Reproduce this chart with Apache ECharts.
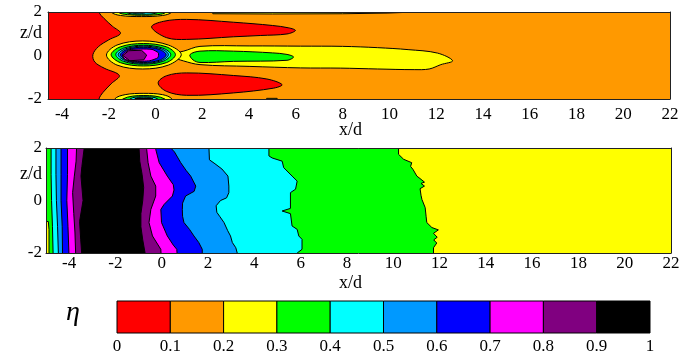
<!DOCTYPE html>
<html><head><meta charset="utf-8">
<script src="https://cdn.jsdelivr.net/npm/echarts@6/dist/echarts.min.js"></script>
<style>html,body{margin:0;padding:0;background:#fff}#c{width:694px;height:356px}</style>
</head><body><div id="c"></div>
<script>
// ---------- colour scale (eta levels) ----------
const etaTicks = [0, 0.1, 0.2, 0.3, 0.4, 0.5, 0.6, 0.7, 0.8, 0.9, 1];
const etaColors = ['#ff0000', '#ff9900', '#ffff00', '#00ff00', '#00ffff', '#0099ff', '#0000ff', '#ff00ff', '#800080', '#000000'];

// ---------- axes ticks ----------
const xTicks = [-4, -2, 0, 2, 4, 6, 8, 10, 12, 14, 16, 18, 20, 22];
const zTicks = [-2, -1, 0, 1, 2];
const topXRange = [-4.6, 22];
const botXRange = [-5, 22];
const zRange = [-2, 2];

// ---------- top plot contour regions, [x/d, z/d] ----------
const topRedLeft = [[-6,3],[-2.6,3],[-2.42,2.0],[-2.2,1.7],[-1.85,1.35],[-1.5,1.02],[-2.0,0.72],[-2.45,0.4],[-2.68,0.04],[-2.6,-0.3],[-2.2,-0.58],[-1.55,-0.92],[-1.9,-1.3],[-2.25,-1.7],[-2.42,-2.0],[-2.6,-3],[-6,-3]];
const topRedUpper = [[-0.17,1.31],[0.33,1.57],[1.33,1.66],[3.33,1.53],[5.0,1.38],[5.7,1.27],[5.98,1.15],[5.62,0.99],[4.5,0.92],[3.33,0.86],[1.33,0.74],[0.47,0.82]];
const topRedLower = [[0.11,-1.26],[0.47,-0.93],[1.33,-0.8],[3.33,-0.92],[4.76,-1.08],[5.41,-1.34],[5.05,-1.5],[3.33,-1.72],[1.33,-1.83],[0.47,-1.65]];
const topEdgeStrip = [[2.3,2.3],[2.45,1.92],[5,1.91],[8,1.92],[9.9,1.95],[10.9,1.99],[11,2.3]];
const topBotStrip = [[4.7,-2.3],[4.75,-1.97],[5.2,-1.97],[5.25,-2.3]];
const topYellowBand = [[0.7,0.08],[1.2,0.2],[1.9,0.42],[4,0.44],[6.2,0.43],[8,0.42],[9.5,0.36],[10.8,0.27],[12.06,0.11],[12.7,-0.24],[12.2,-0.42],[11.7,-0.62],[11.06,-0.65],[9.5,-0.62],[7.9,-0.58],[6.2,-0.57],[4,-0.5],[1.9,-0.42],[1.2,-0.25],[0.7,-0.05]];
const topGreenCore = [[1.47,0.04],[1.9,0.2],[3.33,0.2],[5.0,0.12],[5.62,0.05],[5.9,-0.07],[5.62,-0.22],[3.33,-0.27],[1.9,-0.32],[1.6,-0.2]];
const jetYellow = [[1.1,0.04],[0.55,0.48],[-0.55,0.67],[-1.65,0.48],[-2.1,0.02],[-1.65,-0.44],[-0.55,-0.62],[0.55,-0.44]];
const jetGreen = [[0.85,0.04],[0.46,0.4],[-0.52,0.55],[-1.5,0.4],[-1.9,0.04],[-1.5,-0.33],[-0.52,-0.48],[0.46,-0.33]];
const jetCyan = [[0.65,0.04],[0.31,0.34],[-0.52,0.47],[-1.36,0.34],[-1.7,0.04],[-1.36,-0.27],[-0.52,-0.4],[0.31,-0.27]];
const jetLightBlue = [[0.55,0.04],[0.24,0.31],[-0.52,0.43],[-1.28,0.31],[-1.6,0.04],[-1.28,-0.24],[-0.52,-0.36],[0.24,-0.24]];
const jetBlue = [[0.45,0.03],[0.16,0.28],[-0.52,0.38],[-1.21,0.28],[-1.5,0.03],[-1.21,-0.22],[-0.52,-0.32],[0.16,-0.22]];
const jetMagenta = [[-1.42,0.02],[-1.15,0.26],[-0.6,0.3],[-0.15,0.28],[0.12,0.12],[0.1,-0.1],[-0.25,-0.24],[-0.9,-0.27],[-1.3,-0.18]];
const jetPurple = [[-1.4,0.0],[-1.15,0.22],[-0.6,0.24],[-0.38,0.02],[-0.5,-0.2],[-1.1,-0.24]];
const edgeTopYellow = [[-2.0,2.4],[-1.9,2.0],[-1.5,1.84],[-0.6,1.79],[0.3,1.84],[0.7,2.0],[0.8,2.4]];
const edgeTopGreen = [[-1.65,2.4],[-1.6,2.0],[-1.2,1.88],[-0.6,1.85],[0.1,1.88],[0.45,2.0],[0.5,2.4]];
const edgeTopCyan = [[-1.35,2.4],[-1.3,2.0],[-0.6,1.9],[0.15,2.0],[0.2,2.4]];
const edgeTopBlack = [[-1.1,2.4],[-1.05,2.0],[-0.7,1.95],[-0.4,2.0],[-0.35,2.4]];
const edgeBotYellow = [[-1.8,-2.4],[-1.75,-2.0],[-1.3,-1.8],[-0.5,-1.74],[0.3,-1.8],[0.7,-2.0],[0.75,-2.4]];
const edgeBotGreen = [[-1.45,-2.4],[-1.4,-2.0],[-0.5,-1.84],[0.4,-2.0],[0.45,-2.4]];
const edgeBotCyan = [[-1.15,-2.4],[-1.1,-2.0],[-0.5,-1.9],[0.1,-2.0],[0.15,-2.4]];
const edgeBotBlack = [[-0.95,-2.4],[-0.9,-2.0],[-0.5,-1.95],[-0.1,-2.0],[-0.05,-2.4]];

// ---------- bottom plot contour boundaries (top -> bottom), [x/d, z/d] ----------
const greenL = [[-5.5,2.5],[-5.5,-0.78],[-4.9,-0.8],[-4.87,-1.1],[-4.87,-2.5]];
const greenR = [[10.23,2.5],[10.23,1.76],[10.45,1.57],[10.8,1.44],[10.75,1.3],[10.85,1.19],[11.02,0.93],[11.24,0.78],[11.35,0.7],[11.2,0.65],[11.35,0.55],[11.16,0.45],[11.2,0.2],[11.24,0.04],[11.38,-0.27],[11.42,-0.6],[11.45,-0.84],[11.67,-1.03],[11.95,-1.12],[11.74,-1.25],[11.9,-1.4],[11.75,-1.5],[11.88,-1.62],[11.74,-1.8],[11.74,-2.5]];
const cyanL = [[-4.78,2.5],[-4.78,1],[-4.76,0],[-4.72,-1],[-4.68,-2.5]];
const cyanR = [[4.63,2.5],[4.63,1.7],[4.77,1.62],[5.2,1.5],[5.27,1.25],[5.63,0.93],[5.85,0.74],[5.78,0.43],[5.56,0.3],[5.56,-0.3],[5.2,-0.4],[5.56,-0.5],[5.63,-0.97],[5.85,-1.1],[5.92,-1.35],[6.06,-1.48],[6.06,-1.86],[5.85,-2],[5.85,-2.5]];
const lightBlueL = [[-4.57,2.5],[-4.57,1],[-4.55,0],[-4.5,-1],[-4.45,-2.5]];
const lightBlueR = [[2.04,2.5],[2.04,2],[2.06,1.55],[2.3,1.4],[2.6,1.2],[2.86,0.93],[2.9,0.55],[2.9,0.3],[2.8,0.1],[2.54,0.0],[2.35,-0.2],[2.38,-0.45],[2.5,-0.6],[2.69,-0.84],[2.85,-1.15],[2.97,-1.35],[3.05,-1.6],[3.2,-1.8],[3.26,-2],[3.26,-2.5]];
const blueL = [[-4.35,2.5],[-4.35,1],[-4.35,0],[-4.3,-1],[-4.28,-2.5]];
const blueR = [[0.39,2.5],[0.39,2],[0.55,1.85],[0.82,1.44],[1.05,1.15],[1.25,0.93],[1.47,0.55],[1.4,0.35],[1.03,0.17],[0.9,-0.1],[0.89,-0.34],[0.9,-0.6],[0.96,-0.84],[1.2,-1.1],[1.39,-1.35],[1.6,-1.6],[1.75,-1.86],[1.75,-2.5]];
const magentaL = [[-4.07,2.5],[-4.07,1],[-4.1,0],[-4.05,-1],[-3.99,-2.5]];
const magentaR = [[-0.26,2.5],[-0.26,1.95],[-0.11,1.44],[0.24,0.93],[0.5,0.6],[0.53,0.4],[0.46,0.17],[0.1,-0.15],[-0.04,-0.34],[-0.01,-0.84],[0.24,-1.35],[0.5,-1.7],[0.65,-1.86],[0.7,-2.5]];
const purpleL = [[-3.66,2.5],[-3.7,1.5],[-3.78,0.9],[-3.85,0.3],[-3.8,-0.5],[-3.75,-1.2],[-3.7,-2.5]];
const purpleR = [[-0.65,2.5],[-0.65,1.95],[-0.59,1.44],[-0.47,0.93],[-0.26,0.55],[-0.26,0.17],[-0.47,-0.34],[-0.55,-0.84],[-0.4,-1.35],[-0.04,-1.86],[0.0,-2.5]];
const blackL = [[-3.35,2.5],[-3.35,2],[-3.45,1.3],[-3.49,0.93],[-3.4,0.0],[-3.55,-0.8],[-3.5,-1.5],[-3.42,-2.5]];
const blackR = [[-0.98,2.5],[-0.98,2],[-0.95,1.5],[-0.85,1],[-0.78,0.5],[-0.82,0],[-0.9,-0.5],[-0.9,-1],[-0.82,-1.5],[-0.72,-2],[-0.72,-2.5]];

// ---------- build region tables ----------
const topRegions = [
  {lv:0, pts:topRedLeft, sm:1}, {lv:0, pts:topRedUpper, sm:1}, {lv:0, pts:topRedLower, sm:1},
  {lv:2, pts:topEdgeStrip, sm:0}, {lv:2, pts:topBotStrip, sm:0},
  {lv:2, pts:topYellowBand, sm:1}, {lv:3, pts:topGreenCore, sm:1},
  {lv:2, pts:jetYellow, sm:1}, {lv:3, pts:jetGreen, sm:1}, {lv:4, pts:jetCyan, sm:1},
  {lv:5, pts:jetLightBlue, sm:1}, {lv:6, pts:jetBlue, sm:1}, {lv:7, pts:jetMagenta, sm:0.5}, {lv:8, pts:jetPurple, sm:0},
  {lv:2, pts:edgeTopYellow, sm:1}, {lv:3, pts:edgeTopGreen, sm:1}, {lv:4, pts:edgeTopCyan, sm:1}, {lv:9, pts:edgeTopBlack, sm:1},
  {lv:2, pts:edgeBotYellow, sm:1}, {lv:3, pts:edgeBotGreen, sm:1}, {lv:4, pts:edgeBotCyan, sm:1}, {lv:9, pts:edgeBotBlack, sm:1}
];
const band = (L, R) => L.concat(R.slice().reverse());
const botRegions = [
  {lv:3, pts:band(greenL, greenR), sm:0},
  {lv:4, pts:band(cyanL, cyanR), sm:0},
  {lv:5, pts:band(lightBlueL, lightBlueR), sm:0},
  {lv:6, pts:band(blueL, blueR), sm:0},
  {lv:7, pts:band(magentaL, magentaR), sm:0},
  {lv:8, pts:band(purpleL, purpleR), sm:0},
  {lv:9, pts:band(blackL, blackR), sm:0}
];

const FONT = "'Liberation Serif','Times New Roman',serif";
const FS = 17;

function regionSeries(regions, axisIdx) {
  return {
    type: 'custom', xAxisIndex: axisIdx, yAxisIndex: axisIdx, clip: true, silent: true,
    data: regions.map((r, i) => [r.pts[0][0], r.pts[0][1], i]),
    renderItem: function (params, api) {
      const r = regions[params.dataIndex];
      const pts = r.pts.map(p => api.coord(p));
      return {
        type: 'polygon',
        shape: { points: pts, smooth: r.sm ? 0.35 * r.sm : 0 },
        style: { fill: etaColors[r.lv], stroke: '#000', lineWidth: 1 }
      };
    }
  };
}

function plotX(gi, range, margin) {
  return {
    type: 'value', gridIndex: gi, min: range[0], max: range[1], z: 10,
    axisLine: { show: true, onZero: false, lineStyle: { color: '#222', width: 1 } },
    axisTick: { show: false }, splitLine: { show: false },
    axisLabel: { customValues: xTicks, margin: margin, color: '#000', fontFamily: FONT, fontSize: FS }
  };
}
function frameX(gi, range) {
  return { type: 'value', gridIndex: gi, position: 'top', min: range[0], max: range[1], z: 10,
    axisLine: { show: true, onZero: false, lineStyle: { color: '#222', width: 1 } },
    axisTick: { show: false }, splitLine: { show: false }, axisLabel: { show: false } };
}
function plotY(gi, margin) {
  return {
    type: 'value', gridIndex: gi, min: zRange[0], max: zRange[1], interval: 1, z: 10,
    axisLine: { show: true, onZero: false, lineStyle: { color: '#222', width: 1 } },
    axisTick: { show: false }, splitLine: { show: false },
    axisLabel: { margin: margin, color: '#000', fontFamily: FONT, fontSize: FS,
      formatter: v => v === 1 ? '{zd|z/d}' : (v === -1 ? '' : String(v)),
      rich: { zd: { fontFamily: FONT, fontSize: 18, color: '#000' } } }
  };
}
function frameY(gi) {
  return { type: 'value', gridIndex: gi, position: 'right', min: zRange[0], max: zRange[1], interval: 1, z: 10,
    axisLine: { show: true, onZero: false, lineStyle: { color: '#222', width: 1 } },
    axisTick: { show: false }, splitLine: { show: false }, axisLabel: { show: false } };
}

const chart = echarts.init(document.getElementById('c'), null, { renderer: 'canvas' });
chart.setOption({
  animation: false,
  backgroundColor: '#fff',
  grid: [
    { left: 48, top: 12, width: 622, height: 87, show: true, backgroundColor: etaColors[1], borderWidth: 0 },
    { left: 46, top: 148, width: 625, height: 105, show: true, backgroundColor: etaColors[2], borderWidth: 0 },
    { left: 117, top: 301, width: 533, height: 32 }
  ],
  xAxis: [
    plotX(0, topXRange, 7), frameX(0, topXRange),
    plotX(1, botXRange, 2), frameX(1, botXRange),
    { type: 'value', gridIndex: 2, min: 0, max: 1,
      axisLine: { show: false }, axisTick: { show: false }, splitLine: { show: false },
      axisLabel: { customValues: etaTicks, margin: 5, color: '#000', fontFamily: FONT, fontSize: FS,
        formatter: v => String(v) } }
  ],
  yAxis: [
    plotY(0, 6), frameY(0),
    plotY(1, 4), frameY(1),
    { type: 'value', gridIndex: 2, min: 0, max: 1, show: false }
  ],
  graphic: [
    { type: 'text', left: 339, top: 121, style: { text: 'x/d', font: "18px " + FONT, fill: '#000' } },
    { type: 'text', left: 339, top: 274, style: { text: 'x/d', font: "18px " + FONT, fill: '#000' } },
    { type: 'text', left: 66, top: 299, style: { text: 'η', font: "italic 28px " + FONT, fill: '#000' } }
  ],
  series: [
    regionSeries(topRegions, 0),
    regionSeries(botRegions, 2),
    {
      type: 'custom', xAxisIndex: 4, yAxisIndex: 4, silent: true,
      data: etaColors.map((c, i) => [etaTicks[i], etaTicks[i + 1], i]),
      renderItem: function (params, api) {
        const a = api.coord([api.value(0), 1]);
        const b = api.coord([api.value(1), 0]);
        return { type: 'rect', shape: { x: a[0], y: a[1], width: b[0] - a[0], height: b[1] - a[1] },
          style: { fill: etaColors[api.value(2)], stroke: '#000', lineWidth: 1 } };
      }
    }
  ]
});
</script></body></html>
